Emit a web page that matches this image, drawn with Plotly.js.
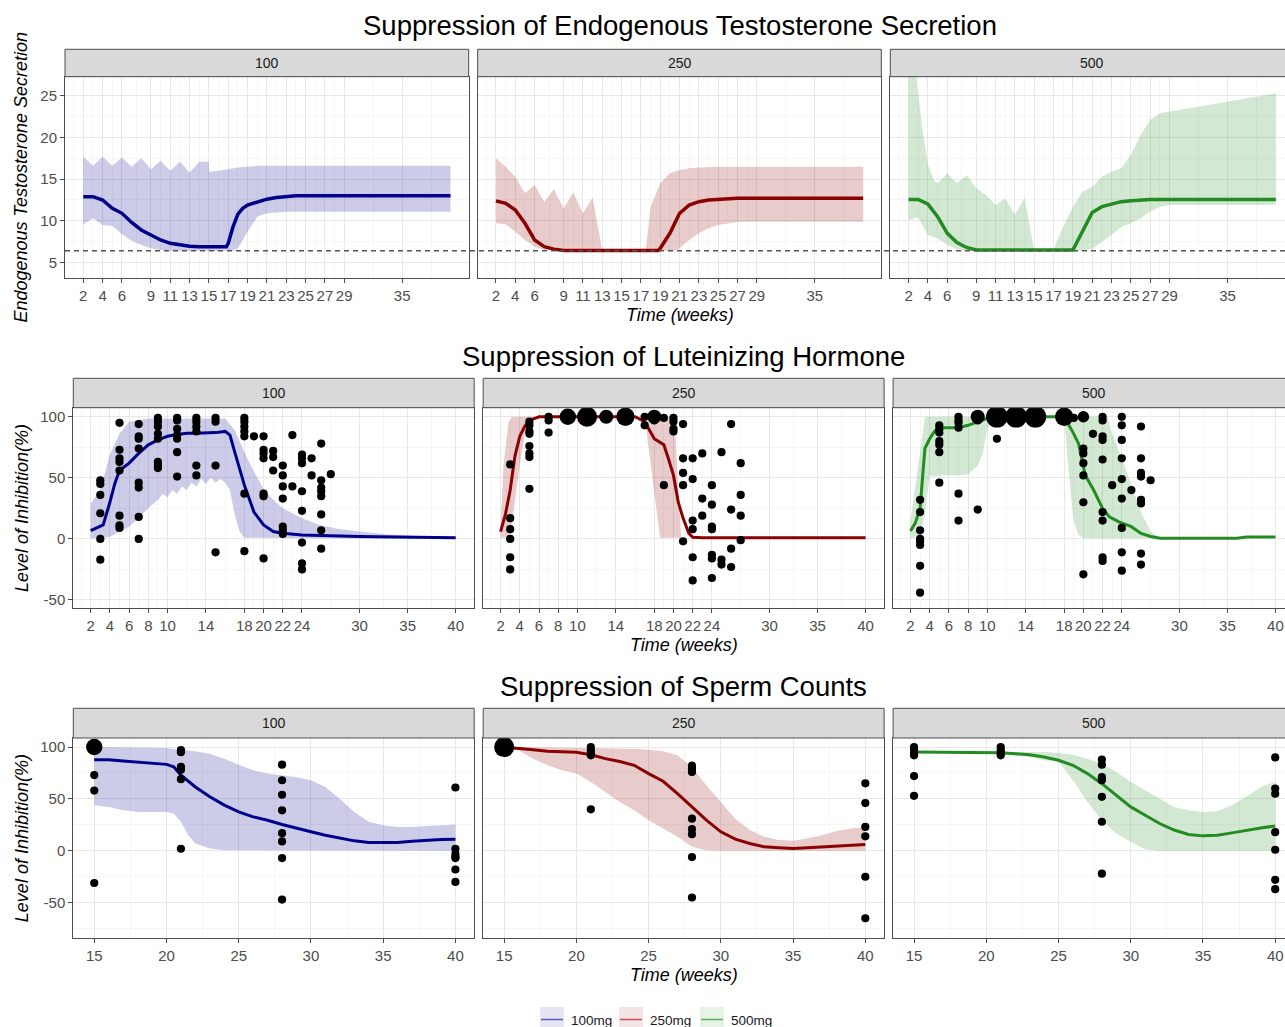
<!DOCTYPE html>
<html><head><meta charset="utf-8">
<script src="https://cdn.plot.ly/plotly-3.0.1.min.js"></script>
<style>html,body{margin:0;padding:0;background:#fff}#chart{width:1285px;height:1027px}</style>
</head><body><div id="chart"></div>
<script>
// ---------------- DATA ----------------
const doses = ['100', '250', '500'];
const legendLabels = ['100mg', '250mg', '500mg'];

// Row 1: Endogenous testosterone secretion (model mean + interval)
const T_xTicks = [2,4,6,9,11,13,15,17,19,21,23,25,27,29,35];
const T_xMinor = [1,3,5,7.5,10,12,14,16,18,20,22,24,26,28,32,38];
const T_yTicks = [5,10,15,20,25];
const T_yMinor = [7.5,12.5,17.5,22.5];
const T_lloq = 6.4;

const T100_week = [2,3,4,5,6,7,8,9,10,11,12,13,14,15,16,16.8,17,17.5,18,18.5,19,20,21,22,23,24,30,40];
const T100_mean = [12.9,12.9,12.5,11.5,10.9,9.8,8.9,8.3,7.7,7.3,7.1,6.95,6.9,6.9,6.9,6.9,7.3,9.3,10.8,11.5,11.9,12.3,12.6,12.8,12.9,13.0,13.0,13.0];
const T100_upperWeek = [2,3,4,5,6,7,8,9,10,11,12,13,14,15,15,16,17,18,19,20,21,40];
const T100_upper = [17.7,16.6,17.7,16.6,17.6,16.5,17.5,16.2,17.2,16.0,17.1,15.8,17.1,17.1,15.9,16.0,16.2,16.4,16.5,16.6,16.6,16.6];
const T100_lowerWeek = [2,3,4,5,6,7,8,9,10,11,17.5,18,19,20,21,22,23,40];
const T100_lower = [9.6,10.3,9.5,9.4,8.4,7.6,7.1,6.7,6.5,6.4,6.4,6.7,8.7,10.5,10.9,11.0,11.1,11.1];

const T250_week = [2,3,4,5,6,7,8,9,18.8,19,20,21,22,23,24,25,27,40];
const T250_mean = [12.4,12.1,11.3,9.7,7.7,6.9,6.6,6.45,6.45,6.7,8.5,10.9,11.9,12.3,12.5,12.6,12.7,12.7];
const T250_upperWeek = [2,3,4,5,6,7,8,9,10,11,12,13,17.5,18,19,20,21,22,23,25,40];
const T250_upper = [17.5,16.5,15.3,13.3,14.3,12.3,13.8,11.5,13.4,10.9,12.8,6.4,6.4,11.7,14.5,15.7,16.1,16.3,16.4,16.5,16.5];
const T250_lowerWeek = [2,3,4,5,6,7,20.5,21,22,23,24,25,26,27,40];
const T250_lower = [9.7,9.6,8.7,7.7,6.9,6.5,6.4,6.7,7.7,8.5,9.1,9.5,9.7,9.9,9.9];

const T500_week = [2,3,4,5,6,7,8,9,19,20,21,22,23,24,25,26,27,40];
const T500_mean = [12.56,12.56,12.0,10.5,8.5,7.4,6.8,6.5,6.5,8.7,11.0,11.7,12.0,12.3,12.4,12.5,12.56,12.56];
const T500_upperWeek = [2,2.8,3.3,4,4.7,5,6,7,8,9,10,11,12,13,14,15,17,17.5,18,19,20,21,22,23,24,25,26,27,28,30,35,40];
const T500_upper = [34,27.3,22.1,16.7,14.7,14.5,15.7,14.5,15.5,13.9,13.1,11.9,12.7,10.7,12.8,6.4,6.4,8.0,9.3,11.7,13.5,14.1,15.3,15.9,16.3,17.9,20.3,22.1,22.9,23.3,24.3,25.3];
const T500_lowerWeek = [2,3,4,5,6,7,8,20,21,22,23,24,25,26,27,28,29,40];
const T500_lower = [10.1,10.4,8.3,7.9,7.1,6.6,6.4,6.4,6.6,7.5,8.3,9.3,9.7,10.3,11.1,11.7,11.9,11.9];

// Row 2: Luteinizing hormone inhibition (%)
const LH_xTicks = [2,4,6,8,10,14,18,20,22,24,30,35,40];
const LH_xMinor = [1,3,5,7,9,12,16,19,21,23,27,32.5,37.5];
const PCT_yTicks = [-50,0,50,100];
const PCT_yMinor = [-75,-25,25,75];

const LH100_week = [2,3,3.3,4,4.5,5,6,7,8,9,10,11,12,13,14,15,16,16.5,17,18,19,20,21,22,24,26,30,40];
const LH100_mean = [6.7,10.8,11.4,30,45,56,62,70,77,81,84,85.5,86.4,86.4,86.4,87,88,85,71,44,22,11.4,6,4.6,3.2,2.6,2,1];
const LH100_upperWeek = [2,3,4,5,6,7,8,16,17,18,19,20,21,22,24,26,28,30,33,36,40];
const LH100_upper = [29,40,69,86,96,97,98.6,98.6,89,71,55,41,32,25,17,11,8,6,3.7,2.4,1.8];
const LH100_lowerWeek = [2,3,4,5,6,7,8,9,9.5,10,10.5,11,11.5,12,12.5,13,13.5,14,14.5,15,15.5,16,16.5,17,17.5,18,40];
const LH100_lower = [0.5,0.5,1.8,6,10,17,25,32,37,34,40,37,43,40,46,43,49,45,50,46,49,46,40,19.5,6,1,0];
const LH100_obsWeek = [3,5,7,9,11,13,15,18,19,20,21,22,23,24,25,26,27];
const LH100_obsValue = [
  [48,45,36,21,0,-17],
  [95,73,66,63,56,19,11,9],
  [94,84,82,74,46,42,18,0],
  [99,96,92,86,82,63,60,58],
  [99,97,90,85,82,71,51],
  [99,96,92,88,60,52],
  [99,96,60,-11],
  [99,96,92,88,84,37,-10],
  [84],
  [84,73,70,66,37,35,-16],
  [72,67,56],
  [60,52,43,33,10,7,4],
  [85,43],
  [69,66,62,39,23,-3,-20,-25],
  [66,52],
  [78,48,42,39,35,20,7,-8],
  [53]];

const LH250_week = [2,2.5,3,3.5,4,4.5,5,6,16,17,18,19,19.5,20,20.5,21,21.6,22,23,40];
const LH250_mean = [6,20,40,68,84,92,97,100,100,96,82,77,65,52,30,17,4.5,1.3,1,1];
const LH250_upperWeek = [2,2.3,2.8,3.2,20.1,20.8,22];
const LH250_upper = [10,60,95,100,100,1,1];
const LH250_lowerWeek = [2,3,3.5,4,4.5,5,5.5,17,18.6,22];
const LH250_lower = [0.5,2,30,60,85,97,100,100,1,1];
const LH250_obsWeek = [3,5,7,9,11,13,15,17,18,19,20,21,22,23,24,25,26,27];
const LH250_obsValue = [
  [61,17,8,0,-15,-25],
  [96,93,88,86,76,70,67,41],
  [100,97,87],
  [100,100,100,100],
  [100,100,100,100,100,100],
  [100,100,100],
  [100,100,100,100,100],
  [100,93],
  [100,100,100,97],
  [99,44],
  [99,96,90,88],
  [94,66,54,44,-2],
  [66,49,15,8,-15,-34],
  [70,33,19],
  [44,28,10,8,-13,-16,-32],
  [71,-17,-21],
  [94,24,-8,-23],
  [62,36,19,-1]];

const LH500_week = [2,2.5,3,3.3,3.5,4,4.5,5,7,8,9,10,11,18,19,19.5,20.2,21,22,22.7,23.7,25,26,27,28,36,37,40];
const LH500_mean = [6.5,13,25,52,74,82,88,91,91,93,96,98.6,100,100,86,78,52,41,25,18,14,10,4.5,2,0.5,0.5,1.5,1.5];
const LH500_upperWeek = [2,2.5,3,3.5,22.5,23,24,25,26,27,28];
const LH500_upper = [14,44,74,100,100,86,66,44,22,6,0.5];
const LH500_lowerWeek = [2,3,3.5,4,4.5,5,7,8,9,9.5,10,10.5,18,18.5,19,19.5,20,28];
const LH500_lower = [0.5,3,20,52,51,52,52,53,60,69,90,100,100,52,14,3,0.5,0.5];
const LH500_obsWeek = [3,5,7,9,11,13,15,18,19,20,21,22,23,24,25,26,27];
const LH500_obsValue = [
  [32,22,7,0,-2,-5,-22,-44],
  [93,90,87,80,77,71,46],
  [100,97,95,91,37,15],
  [100,100,100,97,24],
  [100,100,100,100,100,100,100,82],
  [100,100,100,100,100,100,100],
  [100,100,100,100,100,100,100],
  [100,100,100,100,100],
  [99],
  [100,100,74,70,62,52,30,-29],
  [86],
  [100,97,84,81,65,22,15,-15,-18],
  [44],
  [100,93,81,66,49,33,9,-11,-26],
  [40],
  [92,66,54,51,32,29,-12,-21],
  [48]];

// Row 3: Sperm count inhibition (%)
const SP_xTicks = [15,20,25,30,35,40];
const SP_xMinor = [17.5,22.5,27.5,32.5,37.5];

const SP100_week = [15,16,17,18,19,20,20.5,21,22,23,24,25,26,27,28,29,30,31,32,33,34,35,36,37,38,39,40];
const SP100_mean = [87.8,87.8,86.5,85.6,84.6,83.3,81,73,61.5,52,44,37.5,32.7,29.5,25.3,21.5,18.3,15,12,9.6,8,7.7,8,9.3,10.3,11,11.2];
const SP100_upperWeek = [15,20,21,22,23,24,25,26,27,28,29,30,31,32,33,34,35,36,37,38,40];
const SP100_upper = [100,99,97.4,96,93.6,88.8,83,77.6,74.4,72.8,71,68,61.5,50,37.5,28,24.7,23,23,24,25.3];
const SP100_lowerWeek = [15,16,17,18,20,20.5,21,21.5,22,23,24,25,40];
const SP100_lower = [44,42.3,39,37.5,37.5,36,28,15,7,2.2,0.6,0,0];
const SP100_obsWeek = [15,21,28,40];
const SP100_obsValue = [
  [100,100,100,100,73,58,-31],
  [97,95,81,78,69,2],
  [83,68,54,39,17,9,-7,-47],
  [61,2,-3,-6,-7,-18,-30]];

const SP250_week = [15,16,17,18,19,20,21,22,23,24,25,26,27,28,29,30,31,32,33,34,35,36,37,38,39,40];
const SP250_mean = [100,99,97.4,96,95.8,95,92.6,88.8,86,82.4,74.4,67,55,42.3,29.5,18.3,11.2,7,3.8,2.9,2.2,2.9,3.8,4.8,5.4,6];
const SP250_upperWeek = [15,24,25,26,27,28,29,30,31,32,33,34,35,36,37,38,39,40];
const SP250_upper = [100,98.4,97.4,96,92,80.8,63,47,31,20,13.5,10.3,9.6,12,15,19,21.5,23];
const SP250_lowerWeek = [15,16,17,18,19,20,21,22,23,24,25,26,27,28,29,30,40];
const SP250_lower = [100,96.8,88.8,82.4,77.6,74.4,66.3,56.7,47,39,29.5,21.5,13.5,3.8,0.6,0,0];
const SP250_obsWeek = [15,21,28,40];
const SP250_obsValue = [
  [100,100,100,100,100,100],
  [100,97,94,92,40],
  [82,79,76,31,21,16,-6,-45],
  [65,46,23,14,-25,-65]];

const SP500_week = [15,21,22,23,24,25,26,27,28,29,30,31,32,33,34,35,36,37,38,39,40];
const SP500_mean = [95.2,94.6,93.6,92.6,90.4,87.2,82.4,74.4,64.7,53.5,42.3,34.3,26.3,20,15.7,14.4,15,17.3,20,22,24];
const SP500_upperWeek = [15,21,22,23,24,25,26,27,28,29,30,31,32,33,34,35,36,37,38,39,40];
const SP500_upper = [95.8,95.2,95.2,95.2,95.2,94.2,92.6,88.8,84,76,66.3,58.3,50.3,42.3,39,37.5,38.1,44,52,61.5,66.3];
const SP500_lowerWeek = [15,21,22,23,24,25,26,27,28,29,30,31,32,40];
const SP500_lower = [94.2,93.6,92,90.4,87.2,86,68,47,29.5,16.7,8.7,1.6,0,0];
const SP500_obsWeek = [15,21,28,40];
const SP500_obsValue = [
  [100,98,95,92,72,53],
  [100,97,94,92],
  [88,83,71,68,52,28,-22],
  [90,60,55,18,1,-28,-37]];

// ---------------- STYLE / LAYOUT ----------------
const W = 1285, H = 1027;
const px = X => X / W;
const py = Y => 1 - Y / H;
const FONT = 'Liberation Sans, Arial, sans-serif';
const lineColor = {'100': '#00008B', '250': '#8B0000', '500': '#228B22'};
const fillColor = {'100': 'rgba(0,0,139,0.2)', '250': 'rgba(139,0,0,0.2)', '500': 'rgba(34,139,34,0.2)'};
const legLine = {'100': '#5A5AB4', '250': '#C85050', '500': '#5AAA5A'};
const legFill = {'100': 'rgba(0,0,139,0.10)', '250': 'rgba(139,0,0,0.10)', '500': 'rgba(34,139,34,0.10)'};

const rows = [
  {title: 'Suppression of Endogenous Testosterone Secretion', titleY: 25, yTitle: 'Endogenous Testosterone Secretion', yTitleX: 20,
   xTitleY: 315, stripTop: 49.3, plotTop: 76.7, plotBottom: 278.3, left: 65, right: 1294, lineW: 3.5,
   xRange: [0.107, 41.88], yRange: [3.1, 27.3], xTicks: T_xTicks, xMinor: T_xMinor, yTicks: T_yTicks, yMinor: T_yMinor,
   series: [
     {week: T100_week, mean: T100_mean, upW: T100_upperWeek, up: T100_upper, loW: T100_lowerWeek, lo: T100_lower},
     {week: T250_week, mean: T250_mean, upW: T250_upperWeek, up: T250_upper, loW: T250_lowerWeek, lo: T250_lower},
     {week: T500_week, mean: T500_mean, upW: T500_upperWeek, up: T500_upper, loW: T500_lowerWeek, lo: T500_lower}]},
  {title: 'Suppression of Luteinizing Hormone', titleY: 356, yTitle: 'Level of Inhibition(%)', yTitleX: 22,
   xTitleY: 645, stripTop: 378.3, plotTop: 407.7, plotBottom: 608.3, left: 73.3, right: 1294, lineW: 3,
   xRange: [0.19, 41.93], yRange: [-56.8, 107.4], xTicks: LH_xTicks, xMinor: LH_xMinor, yTicks: PCT_yTicks, yMinor: PCT_yMinor,
   series: [
     {week: LH100_week, mean: LH100_mean, upW: LH100_upperWeek, up: LH100_upper, loW: LH100_lowerWeek, lo: LH100_lower, obsW: LH100_obsWeek, obsV: LH100_obsValue},
     {week: LH250_week, mean: LH250_mean, upW: LH250_upperWeek, up: LH250_upper, loW: LH250_lowerWeek, lo: LH250_lower, obsW: LH250_obsWeek, obsV: LH250_obsValue},
     {week: LH500_week, mean: LH500_mean, upW: LH500_upperWeek, up: LH500_upper, loW: LH500_lowerWeek, lo: LH500_lower, obsW: LH500_obsWeek, obsV: LH500_obsValue}]},
  {title: 'Suppression of Sperm Counts', titleY: 686, yTitle: 'Level of Inhibition(%)', yTitleX: 22,
   xTitleY: 975, stripTop: 708.3, plotTop: 738, plotBottom: 938.3, left: 73.3, right: 1294, lineW: 3,
   xRange: [13.55, 41.3], yRange: [-84.3, 108.7], xTicks: SP_xTicks, xMinor: SP_xMinor, yTicks: PCT_yTicks, yMinor: PCT_yMinor,
   series: [
     {week: SP100_week, mean: SP100_mean, upW: SP100_upperWeek, up: SP100_upper, loW: SP100_lowerWeek, lo: SP100_lower, obsW: SP100_obsWeek, obsV: SP100_obsValue},
     {week: SP250_week, mean: SP250_mean, upW: SP250_upperWeek, up: SP250_upper, loW: SP250_lowerWeek, lo: SP250_lower, obsW: SP250_obsWeek, obsV: SP250_obsValue},
     {week: SP500_week, mean: SP500_mean, upW: SP500_upperWeek, up: SP500_upper, loW: SP500_lowerWeek, lo: SP500_lower, obsW: SP500_obsWeek, obsV: SP500_obsValue}]}
];

const GAP = 9;
const traces = [];
const shapes = [];
const annotations = [];
const layout = {
  width: W, height: H, margin: {l: 0, r: 0, t: 0, b: 0},
  paper_bgcolor: '#ffffff', plot_bgcolor: '#ffffff',
  showlegend: false, font: {family: FONT, color: '#1A1A1A'},
  shapes: shapes, annotations: annotations
};

rows.forEach((row, r) => {
  const w = (row.right - row.left - 2 * GAP) / 3;
  const yDom = [py(row.plotBottom), py(row.plotTop)];
  row.series.forEach((s, c) => {
    const n = r * 3 + c + 1;
    const xa = 'x' + (n === 1 ? '' : n), ya = 'y' + (n === 1 ? '' : n);
    const x0 = row.left + c * (w + GAP);
    let x1 = x0 + w;
    let xr = row.xRange.slice();
    if (x1 > W) { xr[1] = xr[0] + (W - x0) / w * (xr[1] - xr[0]); x1 = W; }
    const dose = doses[c];
    layout['xaxis' + (n === 1 ? '' : n)] = {
      domain: [px(x0), px(x1)], range: xr, anchor: ya,
      tickmode: 'array', tickvals: row.xTicks, ticktext: row.xTicks.map(String),
      ticks: 'outside', ticklen: 4, tickwidth: 1, tickcolor: '#4d4d4d',
      tickfont: {family: FONT, size: 15, color: '#4D4D4D'},
      showgrid: true, gridcolor: '#E8E8E8', gridwidth: 1,
      minor: {tickmode: 'array', tickvals: row.xMinor, showgrid: true, gridcolor: '#F2F2F2', gridwidth: 0.7, ticks: ''},
      showline: true, mirror: true, linecolor: '#4d4d4d', linewidth: 1, zeroline: false, fixedrange: true
    };
    layout['yaxis' + (n === 1 ? '' : n)] = {
      domain: yDom, range: row.yRange, anchor: xa,
      tickmode: 'array', tickvals: row.yTicks, ticktext: row.yTicks.map(String),
      ticks: c === 0 ? 'outside' : '', ticklen: 4, tickwidth: 1, tickcolor: '#4d4d4d',
      showticklabels: c === 0,
      tickfont: {family: FONT, size: 15, color: '#4D4D4D'},
      showgrid: true, gridcolor: '#E8E8E8', gridwidth: 1,
      minor: {tickmode: 'array', tickvals: row.yMinor, showgrid: true, gridcolor: '#F2F2F2', gridwidth: 0.7, ticks: ''},
      showline: true, mirror: c < 2, linecolor: '#4d4d4d', linewidth: 1, zeroline: false, fixedrange: true
    };
    // ribbon
    traces.push({
      type: 'scatter', mode: 'lines', xaxis: xa, yaxis: ya,
      x: s.upW.concat(s.loW.slice().reverse()),
      y: s.up.concat(s.lo.slice().reverse()),
      fill: 'toself', fillcolor: fillColor[dose], line: {width: 0, color: fillColor[dose]},
      hoverinfo: 'skip'
    });
    // mean line
    traces.push({
      type: 'scatter', mode: 'lines', xaxis: xa, yaxis: ya,
      x: s.week, y: s.mean, line: {color: lineColor[dose], width: row.lineW}
    });
    // observed points (size by number of identical observations)
    if (s.obsW) {
      const counts = new Map();
      s.obsW.forEach((wk, i) => s.obsV[i].forEach(v => {
        const k = wk + '|' + v;
        if (!counts.has(k)) counts.set(k, {x: wk, y: v, n: 0});
        counts.get(k).n++;
      }));
      const pts = Array.from(counts.values());
      traces.push({
        type: 'scatter', mode: 'markers', xaxis: xa, yaxis: ya,
        x: pts.map(p => p.x), y: pts.map(p => p.y),
        marker: {color: '#000000', opacity: 1, size: pts.map(p => 8.2 * Math.sqrt(p.n)), line: {width: 0}}
      });
    }
    // strip
    shapes.push({type: 'rect', xref: 'paper', yref: 'paper', layer: 'above',
      x0: px(x0), x1: px(row.left + c * (w + GAP) + w), y0: py(row.plotTop), y1: py(row.stripTop),
      fillcolor: '#D9D9D9', line: {color: '#4d4d4d', width: 1}});
    annotations.push({xref: 'paper', yref: 'paper', x: px(x0 + w / 2), y: py((row.stripTop + row.plotTop) / 2),
      text: dose, showarrow: false, font: {family: FONT, size: 14, color: '#1A1A1A'}, xanchor: 'center', yanchor: 'middle'});
    if (c === 1) {
      annotations.push({xref: 'paper', yref: 'paper', x: px(x0 + w / 2), y: py(row.xTitleY),
        text: '<i>Time (weeks)</i>', showarrow: false, font: {family: FONT, size: 18, color: '#000'},
        xanchor: 'center', yanchor: 'middle'});
    }
  });
  annotations.push({xref: 'paper', yref: 'paper', x: px((row.left + row.right) / 2), y: py(row.titleY),
    text: row.title, showarrow: false, font: {family: FONT, size: 27.5, color: '#000'}, xanchor: 'center', yanchor: 'middle'});
  annotations.push({xref: 'paper', yref: 'paper', x: px(row.yTitleX), y: py((row.plotTop + row.plotBottom) / 2),
    text: '<i>' + row.yTitle + '</i>', textangle: -90, showarrow: false,
    font: {family: FONT, size: 18, color: '#000'}, xanchor: 'center', yanchor: 'middle'});
});

// LLOQ dashed reference line across the testosterone row
shapes.push({type: 'line', xref: 'paper', yref: 'y', x0: px(65), x1: 1, y0: T_lloq, y1: T_lloq,
  layer: 'above', line: {color: '#555555', width: 1.5, dash: '5px,4px'}});

// Legend (bottom)
const legX = [540, 619, 700];
doses.forEach((d, i) => {
  const bx = legX[i];
  shapes.push({type: 'rect', xref: 'paper', yref: 'paper', x0: px(bx), x1: px(bx + 24), y0: py(1033), y1: py(1007),
    fillcolor: legFill[d], line: {width: 0}});
  shapes.push({type: 'line', xref: 'paper', yref: 'paper', x0: px(bx + 1), x1: px(bx + 23), y0: py(1019.5), y1: py(1019.5),
    line: {color: legLine[d], width: 1.5}});
  annotations.push({xref: 'paper', yref: 'paper', x: px(bx + 29), y: py(1020), text: legendLabels[i],
    showarrow: false, xanchor: 'left', yanchor: 'middle', font: {family: FONT, size: 13.5, color: '#1A1A1A'}});
});

Plotly.newPlot('chart', traces, layout, {staticPlot: true});
</script></body></html>
